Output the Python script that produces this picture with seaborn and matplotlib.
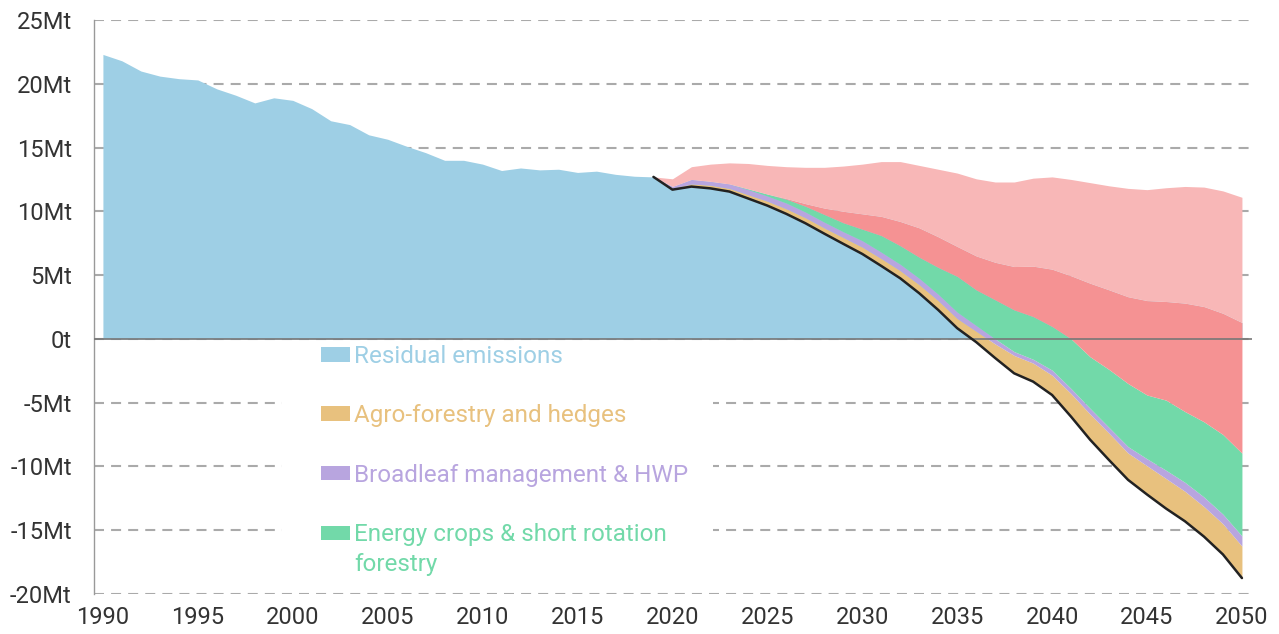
import numpy as np
import pandas as pd
import seaborn as sns
import matplotlib.pyplot as plt
from matplotlib.patches import Patch, Rectangle
from matplotlib.legend_handler import HandlerPatch

# historical emissions (Mt), 1990-2019
hist_years = list(range(1990, 2020))
hist_emissions = [22.3, 21.8, 21.0, 20.6, 20.4, 20.3, 19.6, 19.1, 18.5, 18.9,
                  18.7, 18.05, 17.1, 16.8, 16.0, 15.65, 15.1, 14.6, 14.0, 14.0,
                  13.7, 13.2, 13.4, 13.25, 13.3, 13.05, 13.15, 12.9, 12.75, 12.7]

# projection, 2019-2050
proj_years = list(range(2019, 2051))
net_emissions = [12.7, 11.7, 11.94, 11.8, 11.55, 11.0, 10.45, 9.8, 9.07, 8.25,
                 7.45, 6.66, 5.72, 4.75, 3.58, 2.27, 0.84, -0.25, -1.5, -2.7,
                 -3.35, -4.4, -6.1, -7.9, -9.5, -11.05, -12.2, -13.3, -14.3, -15.5,
                 -16.9, -18.75]
agroforestry = [0, 0.1, 0.21, 0.25, 0.25, 0.3, 0.35, 0.4, 0.43, 0.45,
                0.5, 0.54, 0.58, 0.6, 0.67, 0.73, 0.76, 0.85, 1.1, 1.4,
                1.45, 1.55, 1.8, 2.0, 2.1, 2.1, 2.25, 2.35, 2.35, 2.35,
                2.4, 2.5]
broadleaf = [0, 0.15, 0.35, 0.3, 0.35, 0.4, 0.4, 0.45, 0.45, 0.45,
             0.45, 0.5, 0.5, 0.5, 0.5, 0.5, 0.5, 0.45, 0.4, 0.3,
             0.3, 0.4, 0.4, 0.45, 0.45, 0.5, 0.55, 0.65, 0.7, 0.75,
             0.75, 0.8]
energy_crops = [0, 0, 0, 0, 0, 0.05, 0.15, 0.3, 0.45, 0.6,
                0.7, 0.9, 1.3, 1.45, 1.65, 2.1, 2.8, 2.79, 3.06, 3.27,
                3.35, 3.42, 3.9, 4.05, 4.55, 4.95, 5.0, 5.5, 5.55, 5.9,
                6.25, 6.49]
other_removals = [0, 0, 0, 0, 0, 0, 0, 0.05, 0.2, 0.5,
                  0.9, 1.2, 1.5, 1.9, 2.3, 2.4, 2.34, 2.66, 2.94, 3.4,
                  3.95, 4.49, 4.94, 5.76, 6.24, 6.8, 7.4, 7.73, 8.5, 9.03,
                  9.5, 10.24]
reductions = [0, 0.6, 1.0, 1.35, 1.65, 2.0, 2.25, 2.5, 2.85, 3.2,
              3.55, 3.9, 4.3, 4.7, 4.9, 5.3, 5.76, 6.05, 6.3, 6.63,
              6.9, 7.24, 7.56, 7.89, 8.16, 8.5, 8.7, 8.92, 9.15, 9.37,
              9.6, 9.82]

legend_labels = ['Residual emissions', 'Agro-forestry and hedges',
                 'Broadleaf management & HWP',
                 'Energy crops & short rotation\nforestry']

c_blue = '#9ecfe5'
c_tan = '#e8c17e'
c_purple = '#b8a5df'
c_green = '#72d9a9'
c_red = '#f59293'
c_pink = '#f8b7b7'

proj = pd.DataFrame({'year': proj_years, 'net': net_emissions, 'agro': agroforestry,
                     'broad': broadleaf, 'energy': energy_crops,
                     'other': other_removals, 'red': reductions})
layers = ['agro', 'broad', 'energy', 'other', 'red']
tops = proj[layers].cumsum(axis=1).add(proj['net'], axis=0)
residual = tops['other']

sns.set_style('white')
plt.rcParams['font.family'] = ['Roboto', 'DejaVu Sans']

fig = plt.figure(figsize=(12.79, 6.34), dpi=100)
ax = fig.add_axes([94 / 1279, 40 / 634, 1158 / 1279, 574 / 634])

# residual emissions: history + projected residual
all_years = hist_years + proj_years[1:]
all_resid = hist_emissions + list(residual[1:])
ax.fill_between(all_years, 0, all_resid, color=c_blue, linewidth=0, zorder=1)

lower = proj['net']
for col, colr in zip(layers, [c_tan, c_purple, c_green, c_red, c_pink]):
    ax.fill_between(proj['year'], lower, tops[col], color=colr, linewidth=0, zorder=2)
    lower = tops[col]

sns.lineplot(data=proj, x='year', y='net', color='#222222', linewidth=1.8, ax=ax, zorder=4)
ax.axhline(0, color='#777777', linewidth=1.2, zorder=3)

ax.set_xlim(1989.53, 2050.53)
ax.set_ylim(-20, 25)
ax.set_xticks(range(1990, 2051, 5))
ax.set_yticks(range(-20, 26, 5))
ax.set_yticklabels([f'{v}Mt' if v != 0 else '0t' for v in range(-20, 26, 5)])
ax.set_xlabel('')
ax.set_ylabel('')
ax.grid(axis='y', color='#aaaaaa', linewidth=1.5, dashes=(4.8, 3.4))
ax.set_axisbelow(True)
ax.tick_params(axis='both', length=0, labelsize=17, colors='#333333')
ax.tick_params(axis='y', pad=16)
ax.tick_params(axis='x', pad=9)
for s in ['top', 'right', 'bottom']:
    ax.spines[s].set_visible(False)
ax.spines['left'].set_color('#999999')
ax.spines['left'].set_linewidth(1)

# white box behind the legend hides the gridlines
ax.add_patch(Rectangle((0.1623, 0.0244), 0.3722, 0.4146, transform=ax.transAxes,
                       facecolor='white', edgecolor='none', zorder=0.8))


def raised_patch(legend, orig_handle, xdescent, ydescent, width, height, fontsize):
    return Rectangle((-xdescent, -ydescent + 0.7 * fontsize), width, height)


handles = [Patch(facecolor=c, edgecolor='none') for c in [c_blue, c_tan, c_purple, c_green]]
leg = ax.legend(handles, legend_labels, loc='upper left', bbox_to_anchor=(0.196, 0.434),
                frameon=False, fontsize=17.5, handlelength=1.2, handleheight=0.54,
                handletextpad=0.17, labelspacing=1.5, borderpad=0, borderaxespad=0,
                handler_map={handles[3]: HandlerPatch(patch_func=raised_patch)})
leg.set_zorder(5)
for txt, c in zip(leg.get_texts(), [c_blue, c_tan, c_purple, c_green]):
    txt.set_color(c)
    txt.set_linespacing(1.4)

plt.savefig('out.png', dpi=100)
